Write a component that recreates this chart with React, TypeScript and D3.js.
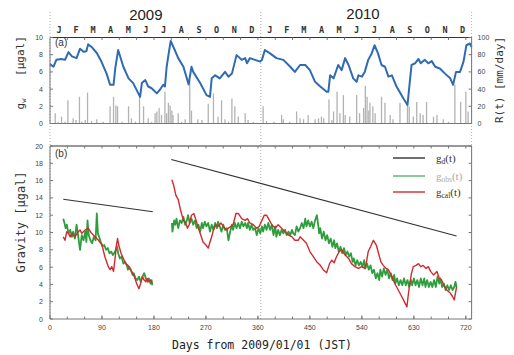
import * as d3 from "d3"

const W = 514
const H = 355

const monthLetters = ["J", "F", "M", "A", "M", "J", "J", "A", "S", "O", "N", "D"]
const monthStarts = [0, 31, 59, 90, 120, 151, 181, 212, 243, 273, 304, 334, 365]
const yearLabels = ["2009", "2010"]
const yearLabelDays = [166, 542]

const dayTicks = [0, 90, 180, 270, 360, 450, 540, 630, 720]
const gwTicks = [0, 2, 4, 6, 8, 10]
const rainTicks = [0, 20, 40, 60, 80, 100]
const gravTicks = [0, 2, 4, 6, 8, 10, 12, 14, 16, 18, 20]

// g_w (day, µgal)
const gwSeries: [number, number][] = [
  [0, 6.9], [6, 6.6], [11, 7.4], [20, 7.5], [26, 7.4], [32, 8.3], [38, 7.8], [46, 7.6], [52, 8.7], [58, 8.35],
  [63, 8.4], [66, 9.2], [72, 8.9], [81, 8.2], [89, 7.2], [98, 5.8], [104, 4.5], [110, 4.5], [113, 6.4], [118, 8.55],
  [127, 6.6], [136, 5.25], [144, 4.7], [156, 3.1], [159, 4.7], [165, 5.05], [170, 4.3], [176, 4.1], [185, 3.5], [190, 3.9],
  [196, 4.5], [199, 4.3], [202, 6.6], [206, 8.35], [209, 9.6], [216, 8.55], [222, 7.6], [231, 6.6], [240, 4.55], [245, 6.6],
  [248, 6.0], [260, 4.7], [271, 3.3], [277, 3.1], [280, 5.25], [286, 5.6], [294, 5.25], [303, 6.0], [309, 5.45], [315, 5.8],
  [323, 7.95], [332, 7.4], [338, 7.6], [341, 7.0], [346, 7.6], [355, 7.4], [364, 7.2], [367, 7.4], [372, 8.55], [381, 8.15],
  [392, 7.6], [404, 7.4], [416, 6.6], [424, 6.0], [433, 6.8], [442, 6.8], [450, 6.2], [459, 4.85], [468, 4.3], [479, 3.7],
  [482, 3.7], [485, 5.6], [491, 5.25], [499, 6.8], [505, 6.2], [511, 7.6], [517, 6.8], [525, 5.25], [531, 4.85], [534, 5.6],
  [540, 5.45], [545, 6.0], [551, 7.4], [557, 8.15], [562, 9.1], [568, 8.15], [574, 6.8], [580, 6.6], [586, 5.45], [592, 5.6],
  [600, 4.3], [612, 2.9], [619, 2.15], [623, 4.85], [626, 6.8], [632, 7.0], [638, 7.5], [642, 7.0], [649, 7.4], [655, 7.0],
  [661, 7.25], [667, 6.6], [675, 6.4], [684, 5.8], [693, 5.25], [698, 4.5], [703, 6.0], [710, 6.0], [716, 7.2], [721, 9.1],
  [727, 9.3], [730, 8.9],
]

// R(t) (day, mm/day)
const rainfall: [number, number][] = [
  [9, 12], [14, 2], [20, 8], [26, 2], [31, 27], [40, 6], [45, 4], [51, 31], [55, 2], [61, 4], [65, 36], [72, 3],
  [81, 5], [92, 2], [104, 20], [110, 31], [114, 21], [117, 20], [125, 2], [136, 20], [141, 6], [148, 2], [155, 31],
  [162, 20], [170, 6], [176, 2], [182, 12], [185, 14], [189, 18], [193, 10], [199, 37], [202, 12], [205, 24], [208, 21],
  [211, 15], [213, 10], [222, 12], [228, 2], [234, 5], [242, 50], [245, 15], [256, 5], [263, 4], [274, 23], [283, 35],
  [291, 8], [297, 27], [303, 5], [309, 2], [315, 29], [320, 20], [326, 8], [338, 12], [343, 4], [352, 2], [369, 20],
  [375, 3], [388, 2], [401, 10], [404, 5], [415, 2], [427, 14], [433, 6], [439, 5], [447, 10], [459, 5], [465, 6],
  [470, 8], [474, 6], [483, 28], [488, 4], [491, 14], [497, 37], [502, 12], [508, 33], [511, 10], [519, 8], [531, 33],
  [536, 12], [543, 18], [546, 44], [549, 31], [552, 15], [554, 24], [559, 20], [563, 12], [574, 31], [580, 24],
  [589, 10], [594, 5], [606, 24], [619, 22], [622, 20], [629, 8], [635, 25], [641, 12], [646, 10], [652, 25],
  [664, 8], [670, 10], [681, 5], [690, 2], [701, 45], [711, 25], [720, 37], [724, 14],
]

// g_d(t) trend segments
const gdSeg1: [number, number][] = [[23, 13.85], [178, 12.4]]
const gdSeg2: [number, number][] = [[210, 18.45], [704, 9.6]]

// g_obs(t)
const gobsSeg1: [number, number][] = [
  [23, 11.6], [25, 11.1], [27, 10.5], [29, 10.9], [32, 9.9], [35, 10.3], [38, 9.5], [40, 10.1], [43, 9.3], [46, 10.9],
  [49, 9.5], [52, 8.0], [55, 9.7], [58, 9.1], [61, 10.1], [63, 8.9], [65, 11.4], [67, 9.7], [70, 9.1], [73, 8.75],
  [76, 9.5], [79, 9.1], [81, 12.2], [83, 9.9], [85, 9.5], [88, 8.9], [91, 8.4], [94, 8.55], [97, 8.0], [100, 8.2],
  [103, 7.6], [106, 7.8], [109, 7.4], [111, 7.6], [114, 8.0], [116, 8.4], [118, 7.6], [121, 7.0], [124, 7.2], [127, 6.4],
  [130, 6.6], [133, 6.2], [135, 5.7], [137, 6.05], [140, 5.7], [143, 5.1], [145, 5.3], [148, 4.7], [151, 4.5], [154, 4.9],
  [157, 4.3], [160, 4.9], [163, 5.3], [166, 4.7], [169, 4.3], [171, 4.7], [174, 4.1], [176, 4.5], [177, 3.9],
]
const gobsSeg2: [number, number][] = [
  [211, 11.1], [212, 10.1], [215, 11.4], [217, 10.9], [219, 11.6], [222, 10.5], [225, 11.4], [228, 11.1], [231, 11.8],
  [234, 10.9], [237, 11.4], [239, 12.0], [242, 11.1], [245, 11.6], [248, 10.9], [251, 11.4], [254, 10.5], [257, 10.9],
  [260, 10.1], [263, 11.1], [265, 10.5], [268, 11.25], [271, 10.7], [274, 11.1], [277, 10.1], [280, 10.9], [283, 10.3],
  [286, 11.1], [289, 10.5], [291, 11.25], [294, 10.7], [297, 10.1], [300, 10.9], [303, 10.3], [306, 10.5], [309, 9.1],
  [312, 10.1], [315, 10.9], [317, 10.3], [320, 11.1], [323, 10.5], [326, 11.1], [329, 10.5], [332, 11.25], [335, 10.7],
  [338, 11.1], [341, 10.5], [343, 11.1], [346, 10.3], [349, 10.9], [352, 10.3], [355, 10.5], [358, 9.7], [361, 10.5],
  [364, 9.9], [367, 10.7], [369, 10.1], [372, 10.9], [375, 10.3], [378, 11.1], [381, 10.3], [384, 10.9], [387, 9.7],
  [390, 10.7], [392, 9.5], [395, 10.3], [398, 9.7], [401, 10.3], [404, 9.9], [407, 10.3], [410, 9.7], [413, 10.1],
  [416, 9.7], [419, 10.3], [421, 9.9], [424, 9.7], [427, 10.7], [430, 10.1], [433, 10.5], [436, 11.1], [439, 10.5],
  [442, 11.6], [444, 10.7], [447, 11.4], [450, 10.7], [453, 11.25], [456, 10.5], [459, 11.4], [462, 12.0], [464, 11.1],
  [466, 9.9], [468, 10.5], [471, 9.3], [474, 10.1], [477, 9.1], [480, 9.7], [483, 8.75], [486, 9.3], [489, 8.35],
  [492, 9.1], [494, 8.2], [497, 8.75], [500, 7.8], [503, 8.35], [506, 7.6], [509, 8.2], [512, 7.4], [515, 7.8],
  [518, 7.2], [521, 7.6], [524, 6.6], [526, 7.0], [529, 6.2], [532, 6.8], [535, 6.2], [538, 6.6], [541, 6.05],
  [544, 6.8], [546, 5.85], [549, 6.4], [552, 5.7], [555, 6.2], [558, 5.3], [561, 5.7], [564, 4.7], [567, 5.3],
  [570, 4.5], [572, 5.7], [575, 4.9], [578, 5.85], [581, 5.1], [584, 5.7], [587, 4.7], [590, 5.3], [593, 4.5],
  [596, 5.1], [598, 4.1], [601, 4.7], [604, 3.9], [607, 4.5], [610, 3.9], [613, 4.7], [616, 3.9], [619, 4.5],
  [622, 3.7], [625, 4.5], [627, 3.9], [630, 4.7], [633, 3.9], [636, 4.5], [639, 3.7], [642, 4.7], [645, 3.9],
  [648, 4.7], [650, 3.7], [653, 4.5], [656, 3.7], [659, 4.3], [662, 3.7], [665, 4.5], [668, 3.7], [671, 4.9],
  [674, 4.1], [676, 4.7], [679, 3.7], [682, 4.1], [685, 3.35], [688, 3.9], [691, 3.35], [694, 3.9], [697, 3.35],
  [700, 3.7], [702, 4.3], [704, 3.7],
]

// g_cal(t)
const gcalSeg1: [number, number][] = [
  [23, 9.5], [26, 9.1], [29, 10.1], [32, 9.9], [35, 9.5], [38, 9.9], [43, 9.5], [49, 10.1], [52, 10.3], [55, 9.9],
  [61, 10.3], [66, 10.5], [72, 9.9], [78, 9.5], [84, 9.1], [90, 8.55], [95, 7.2], [101, 6.05], [104, 5.7], [107, 6.05],
  [110, 5.5], [113, 7.2], [115, 8.55], [117, 9.3], [119, 8.55], [123, 7.6], [127, 7.0], [131, 6.4], [135, 6.2],
  [139, 5.7], [143, 5.3], [146, 4.9], [150, 4.1], [154, 3.5], [157, 4.1], [160, 4.9], [163, 4.5], [166, 4.3],
  [168, 4.7], [171, 4.3], [174, 4.5], [177, 4.1],
]
const gcalSeg2: [number, number][] = [
  [211, 16.1], [214, 15.5], [218, 14.3], [222, 13.8], [226, 12.6], [231, 11.4], [235, 11.1], [238, 10.5], [241, 10.9],
  [245, 12.0], [249, 12.2], [253, 11.4], [257, 10.5], [261, 9.7], [265, 8.9], [270, 8.55], [274, 8.2], [277, 8.9],
  [280, 9.5], [283, 10.3], [287, 10.9], [291, 10.7], [296, 11.1], [300, 10.7], [305, 10.3], [309, 10.5], [313, 10.7],
  [317, 10.9], [322, 12.2], [326, 12.2], [332, 11.6], [338, 11.4], [342, 11.6], [346, 11.1], [352, 10.9], [358, 10.5],
  [362, 10.7], [367, 11.4], [371, 12.0], [375, 12.0], [380, 11.4], [384, 10.9], [390, 10.5], [395, 10.9], [401, 10.5],
  [407, 10.1], [413, 9.7], [419, 9.5], [424, 9.1], [430, 9.1], [433, 9.5], [439, 9.1], [444, 8.75], [450, 7.8],
  [456, 7.2], [462, 6.6], [468, 6.2], [473, 5.7], [479, 5.35], [484, 6.4], [488, 6.8], [492, 6.5], [496, 7.2],
  [501, 7.8], [505, 8.0], [511, 7.4], [517, 7.0], [522, 6.4], [528, 6.05], [534, 5.85], [540, 6.05], [545, 5.85],
  [548, 6.6], [551, 7.8], [555, 8.35], [560, 9.1], [565, 8.55], [568, 7.8], [573, 6.6], [577, 6.2], [582, 5.85],
  [586, 5.7], [592, 4.9], [597, 4.1], [603, 3.35], [609, 2.6], [615, 1.8], [618, 1.4], [620, 2.6], [623, 4.1],
  [626, 5.3], [629, 6.05], [634, 6.2], [638, 6.4], [642, 6.05], [646, 6.2], [651, 5.85], [655, 6.05], [659, 5.5],
  [664, 5.1], [670, 5.5], [674, 4.7], [678, 4.5], [682, 3.9], [687, 3.35], [693, 3.0], [697, 2.6], [700, 2.2],
  [704, 3.7],
]

const x = d3.scaleLinear().domain([0, 730]).range([50, 471.6])
const yA = d3.scaleLinear().domain([0, 10]).range([123.5, 37.5])
const yR = d3.scaleLinear().domain([0, 100]).range([123.5, 37.5])
const yB = d3.scaleLinear().domain([0, 20]).range([319, 146])

const lineA = d3.line<[number, number]>().x((d) => x(d[0])).y((d) => yA(d[1]))
const lineB = d3.line<[number, number]>().x((d) => x(d[0])).y((d) => yB(d[1]))

const tickFont = "Liberation Sans, Arial, sans-serif"
const monoFont = "DejaVu Sans Mono, Liberation Mono, monospace"
const axisCol = "#777"
const frameCol = "#333"

export default function App() {
  const x0 = x(0)
  const x1 = x(730)
  const minor30 = d3.range(30, 730, 30)

  const monthPos: { l: string; d: number }[] = []
  for (let yr = 0; yr < 2; yr++) {
    monthLetters.forEach((l, i) => {
      monthPos.push({ l, d: yr * 365 + (monthStarts[i] + monthStarts[i + 1]) / 2 })
    })
  }

  return (
    <svg width={W} height={H} style={{ position: "absolute", left: 0, top: 0, background: "#fff" }}>
      {/* dotted year separators */}
      {[0, 365, 730].map((d) => (
        <line key={d} x1={x(d)} x2={x(d)} y1={12} y2={yB(0)} stroke="#999" strokeWidth={0.8} strokeDasharray="1,2" />
      ))}

      {/* year + month labels */}
      {yearLabels.map((t, i) => (
        <text key={t} x={x(yearLabelDays[i])} y={i === 0 ? 20 : 19} fontSize={15} fontFamily={tickFont} textAnchor="middle" fill="#222">
          {t}
        </text>
      ))}
      {monthPos.map((m, i) => (
        <text key={i} x={x(m.d)} y={33} fontSize={8.5} fontFamily={monoFont} fontWeight="bold" textAnchor="middle" fill="#333">
          {m.l}
        </text>
      ))}

      {/* ---------- panel (a) ---------- */}
      {rainfall.map((r, i) => (
        <line key={i} x1={x(r[0])} x2={x(r[0])} y1={yR(0)} y2={yR(r[1])} stroke="#b3b3b3" strokeWidth={1.3} />
      ))}
      <path d={lineA(gwSeries) ?? ""} fill="none" stroke="#2f6bb3" strokeWidth={2} strokeLinejoin="round" />

      <line x1={x0} x2={x1} y1={yA(10)} y2={yA(10)} stroke={frameCol} strokeWidth={1} />
      <line x1={x0} x2={x1} y1={yA(0)} y2={yA(0)} stroke={axisCol} strokeWidth={1} />
      <line x1={x0} x2={x0} y1={yA(0)} y2={yA(10)} stroke={axisCol} strokeWidth={1} />
      <line x1={x1} x2={x1} y1={yA(0)} y2={yA(10)} stroke={axisCol} strokeWidth={1} />
      {gwTicks.map((t) => (
        <g key={t}>
          <line x1={x0} x2={x0 + 3} y1={yA(t)} y2={yA(t)} stroke={axisCol} />
          <text x={x0 - 7} y={yA(t) + 2.5} fontSize={7} fontFamily={tickFont} textAnchor="end" fill="#444">{t}</text>
        </g>
      ))}
      {rainTicks.map((t) => (
        <g key={t}>
          <line x1={x1 - 3} x2={x1} y1={yR(t)} y2={yR(t)} stroke={axisCol} />
          <text x={x1 + 6} y={yR(t) + 2.5} fontSize={7} fontFamily={tickFont} textAnchor="start" fill="#444">{t}</text>
        </g>
      ))}
      {minor30.map((d) => (
        <line key={d} x1={x(d)} x2={x(d)} y1={yA(10)} y2={yA(10) + 2.5} stroke={axisCol} />
      ))}
      <text x={55} y={46} fontSize={10} fontFamily={tickFont} fill="#333">(a)</text>
      <text transform={`translate(24,56) rotate(-90)`} fontSize={11} fontFamily={monoFont} textAnchor="middle" fill="#333">[μgal]</text>
      <text transform={`translate(24,104) rotate(-90)`} fontSize={11} fontFamily={monoFont} textAnchor="middle" fill="#333">
        g<tspan fontSize={7} dy={2}>w</tspan>
      </text>
      <text transform={`translate(503,80) rotate(-90)`} fontSize={11} fontFamily={monoFont} textAnchor="middle" fill="#333">R(t) [mm/day]</text>

      {/* ---------- panel (b) ---------- */}
      {[gobsSeg1, gobsSeg2].map((s, i) => (
        <path key={i} d={lineB(s) ?? ""} fill="none" stroke="#2e9e3c" strokeWidth={1.8} strokeLinejoin="round" />
      ))}
      {[gcalSeg1, gcalSeg2].map((s, i) => (
        <path key={i} d={lineB(s) ?? ""} fill="none" stroke="#d42a2e" strokeWidth={1.4} strokeLinejoin="round" />
      ))}
      {[gdSeg1, gdSeg2].map((s, i) => (
        <path key={i} d={lineB(s) ?? ""} fill="none" stroke="#333" strokeWidth={1.1} />
      ))}

      <line x1={x0} x2={x1} y1={yB(20)} y2={yB(20)} stroke={frameCol} strokeWidth={1} />
      <line x1={x0} x2={x1} y1={yB(0)} y2={yB(0)} stroke={axisCol} strokeWidth={1} />
      <line x1={x0} x2={x0} y1={yB(0)} y2={yB(20)} stroke={axisCol} strokeWidth={1} />
      <line x1={x1} x2={x1} y1={yB(0)} y2={yB(20)} stroke={axisCol} strokeWidth={1} />
      {gravTicks.map((t) => (
        <g key={t}>
          <line x1={x0} x2={x0 + 3} y1={yB(t)} y2={yB(t)} stroke={axisCol} />
          <line x1={x1 - 3} x2={x1} y1={yB(t)} y2={yB(t)} stroke={axisCol} />
          <text x={x0 - 7} y={yB(t) + 2.5} fontSize={7} fontFamily={tickFont} textAnchor="end" fill="#444">{t}</text>
        </g>
      ))}
      {minor30.map((d) => (
        <g key={d}>
          <line x1={x(d)} x2={x(d)} y1={yB(20)} y2={yB(20) + 2.5} stroke={axisCol} />
          <line x1={x(d)} x2={x(d)} y1={yB(0)} y2={yB(0) - 2.5} stroke={axisCol} />
        </g>
      ))}
      {dayTicks.map((t) => (
        <g key={t}>
          <line x1={x(t)} x2={x(t)} y1={yB(0)} y2={yB(0) - 3.5} stroke={axisCol} />
          <text x={x(t)} y={yB(0) + 11} fontSize={7} fontFamily={tickFont} textAnchor="middle" fill="#444">{t}</text>
        </g>
      ))}
      <text x={55} y={157} fontSize={10} fontFamily={tickFont} fill="#333">(b)</text>
      <text transform={`translate(25,222) rotate(-90)`} fontSize={12} fontFamily={monoFont} textAnchor="middle" fill="#333">Gravity [μgal]</text>
      <text x={262} y={349} fontSize={11.5} fontFamily={monoFont} textAnchor="middle" fill="#222">Days from 2009/01/01 (JST)</text>

      {/* legend */}
      {[
        { sub: "d", col: "#333", tcol: "#333", y: 158 },
        { sub: "obs", col: "#5fb06a", tcol: "#aaa", y: 176 },
        { sub: "cal", col: "#d42a2e", tcol: "#333", y: 192 },
      ].map((e) => (
        <g key={e.sub}>
          <line x1={393} x2={425} y1={e.y} y2={e.y} stroke={e.col} strokeWidth={1.4} />
          <text x={436} y={e.y + 3.5} fontSize={11} fontFamily="Liberation Serif, serif" fill={e.tcol}>
            g<tspan fontSize={7.5} dy={2}>{e.sub}</tspan>
            <tspan dy={-2}>(t)</tspan>
          </text>
        </g>
      ))}
    </svg>
  )
}
